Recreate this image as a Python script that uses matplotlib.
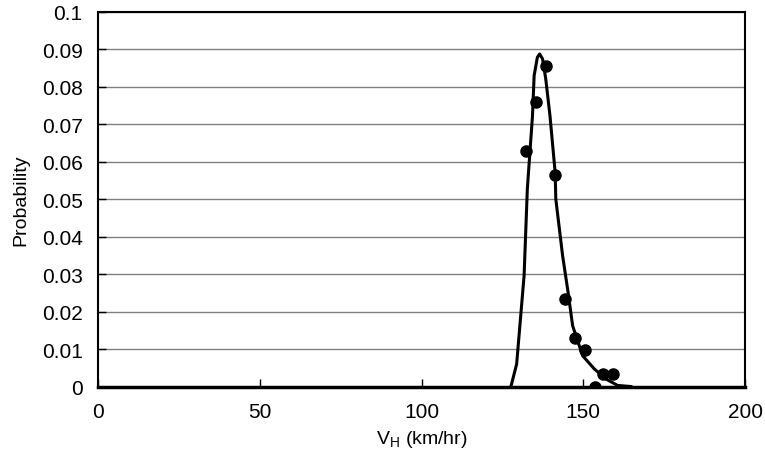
import matplotlib.pyplot as plt

plt.rcParams['font.family'] = ['Liberation Sans', 'DejaVu Sans']

# fitted distribution curve
curve_v = [127.6, 129.4, 131.7, 132.7, 134.3, 134.8, 135.8, 136.5, 137.4, 138.4,
           139.7, 141.3, 141.5, 143.6, 145.3, 146.7, 149.8, 153.4, 157.0, 160.6, 164.7]
curve_p = [0.0, 0.0061, 0.0297, 0.0528, 0.0724, 0.083, 0.0879, 0.0888, 0.0875, 0.0821,
           0.0723, 0.0572, 0.0501, 0.035, 0.0252, 0.0163, 0.0083, 0.0048, 0.0021, 0.0004, 0.0001]

# observed points
obs_v = [132.2, 135.5, 138.6, 141.2, 144.3, 147.5, 150.6, 153.7, 156.2, 159.3]
obs_p = [0.0628, 0.0759, 0.0857, 0.0565, 0.0235, 0.0131, 0.0099, 0.0001, 0.0035, 0.0035]

fig = plt.figure(figsize=(7.65, 4.64), dpi=100)
ax = fig.add_axes([0.128, 0.164, 0.846, 0.808])

ax.set_xlim(0, 200)
ax.set_ylim(0, 0.1)
ax.set_xticks([0, 50, 100, 150, 200])
ax.set_yticks([i / 100 for i in range(11)])
ax.set_yticklabels(['0', '0.01', '0.02', '0.03', '0.04', '0.05', '0.06', '0.07', '0.08', '0.09', '0.1'])

ax.yaxis.grid(True, color='#808080', linewidth=1)
ax.set_axisbelow(True)

ax.plot(curve_v, curve_p, color='black', linewidth=2.2, zorder=3)
ax.plot(obs_v, obs_p, 'o', color='black', markersize=8, zorder=4)

for s in ax.spines.values():
    s.set_color('black')
    s.set_linewidth(1.5)
ax.spines['bottom'].set_linewidth(2.5)

ax.tick_params(axis='both', direction='in', length=6, width=1, labelsize=15, colors='black', pad=11)

ax.set_xlabel('V$_\\mathregular{H}$ (km/hr)', fontsize=14, labelpad=5)
ax.set_ylabel('Probability', fontsize=14, labelpad=9)

fig.savefig('out.png', dpi=100)
